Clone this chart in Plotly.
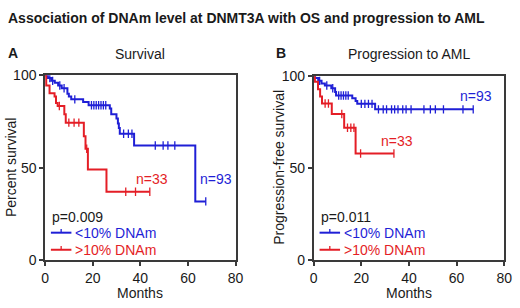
import numpy as np
import plotly.graph_objects as go

# ---------------- data ----------------
# Panel A: overall survival (step curves: time in months, percent survival)
a_low_t = [0, 1.2, 2.6, 4.1, 5.5, 7.0, 9.4, 10.0, 11.0, 16.0, 18.3, 27.2, 27.8, 30.0, 30.6, 31.0, 31.4, 37.4, 63.1, 67.5]
a_low_s = [100, 98.5, 97, 96, 94.5, 93, 90, 88.5, 87, 85.5, 83.8, 82, 79, 76.6, 74, 71.5, 68.4, 62, 31.8, 31.8]
a_low_c = [2.0, 3.2, 6.2, 8.0, 12.5, 19.5, 20.5, 21.5, 22.5, 23.5, 24.5, 25.5, 33.0, 35.0, 36.5, 46.3, 49.6, 51.6, 54.5, 67.5]

a_high_t = [0, 0.5, 1.9, 4.0, 4.6, 5.3, 8.1, 8.7, 16.3, 17.0, 18.0, 25.8, 44.0]
a_high_s = [100, 94.5, 90.3, 88.5, 85, 83.4, 79, 74.4, 67, 60.3, 49, 37, 37]
a_high_c = [6.0, 10.0, 12.2, 14.2, 17.5, 33.9, 38.0, 44.0]

# Panel B: progression-free survival
b_low_t = [0, 0.6, 1.9, 3.3, 4.7, 7.4, 9.0, 9.4, 16.2, 17.6, 18.3, 25.8, 67.0]
b_low_s = [100, 99, 97.5, 96, 95, 93.5, 91.5, 89.5, 88, 86.5, 85, 82, 82]
b_low_c = [2.5, 5.5, 8.0, 10.5, 11.5, 12.5, 13.5, 14.5, 20.0, 21.5, 23.0, 24.5,
           27.2, 29.2, 30.6, 32.7, 34.0, 35.4, 37.4, 38.8, 40.9, 46.3, 49.0, 51.1, 54.5, 62.7, 67.0]

b_high_t = [0, 0.5, 1.8, 2.7, 3.5, 7.6, 12.8, 17.6, 33.7]
b_high_s = [100, 97, 93, 89, 85.2, 79.5, 72, 58, 58]
b_high_c = [4.8, 6.2, 11.8, 14.2, 15.6, 16.9, 19.7, 33.7]

group_labels = ["<10% DNAm", ">10% DNAm"]
n_labels = ["n=93", "n=33"]
p_values = ["p=0.009", "p=0.011"]
panel_titles = ["Survival", "Progression to AML"]
y_titles = ["Percent survival", "Progression-free survival"]
x_ticks = [0, 20, 40, 60, 80]
y_ticks = [0, 50, 100]

BLUE = "#1f1fd6"
RED = "#e41e26"
AX = "#3a3a3a"
FONT = "Arial, Liberation Sans, sans-serif"
W, H = 520, 308


def step_at(ts, ss, x):
    idx = np.searchsorted(np.array(ts), np.array(x), side="right") - 1
    return list(np.array(ss)[idx])


fig = go.Figure()

series = [
    ("x", "y", a_low_t, a_low_s, a_low_c, BLUE),
    ("x", "y", a_high_t, a_high_s, a_high_c, RED),
    ("x2", "y2", b_low_t, b_low_s, b_low_c, BLUE),
    ("x2", "y2", b_high_t, b_high_s, b_high_c, RED),
]
for xa, ya, t, s, c, col in series:
    fig.add_trace(go.Scatter(x=t, y=s, xaxis=xa, yaxis=ya, mode="lines",
                             line=dict(color=col, width=2, shape="hv"),
                             showlegend=False, hoverinfo="skip"))
    fig.add_trace(go.Scatter(x=c, y=step_at(t, s, c), xaxis=xa, yaxis=ya, mode="markers",
                             marker=dict(symbol="line-ns", size=6,
                                         line=dict(color=col, width=1.3)),
                             showlegend=False, hoverinfo="skip"))

axis_common = dict(showline=True, mirror=True, linecolor=AX, linewidth=1.5,
                   ticks="outside", ticklen=4, tickwidth=1.5, tickcolor=AX,
                   showgrid=False, zeroline=False,
                   tickfont=dict(family=FONT, size=14, color="#1a1a1a"))

fig.update_layout(
    width=W, height=H, margin=dict(l=0, r=0, t=0, b=0),
    paper_bgcolor="white", plot_bgcolor="white",
    font=dict(family=FONT, color="#1a1a1a"),
    xaxis=dict(domain=[42 / W, 237 / W], range=[0, 80], tickvals=x_ticks, **axis_common),
    yaxis=dict(domain=[(H - 266) / H, (H - 71) / H], range=[0, 100], tickvals=y_ticks, **axis_common),
    xaxis2=dict(domain=[317 / W, 512 / W], range=[0, 80], tickvals=x_ticks, anchor="y2", **axis_common),
    yaxis2=dict(domain=[(H - 266) / H, (H - 72) / H], range=[0, 100], tickvals=y_ticks, anchor="x2", **axis_common),
)


def px(x):
    return x / W


def py(y):
    return 1 - y / H


ann = []


def text(x, y, s, size=14, color="#1a1a1a", xanchor="center", bold=False, angle=0):
    ann.append(dict(x=px(x), y=py(y), xref="paper", yref="paper", text=(f"<b>{s}</b>" if bold else s),
                    showarrow=False, xanchor=xanchor, yanchor="middle", textangle=angle,
                    font=dict(family=FONT, size=size, color=color)))


text(2, 11, "Association of DNAm level at DNMT3A with OS and progression to AML", size=14, xanchor="left", bold=True)
text(2, 47, "A", size=14, xanchor="left", bold=True)
text(276, 47, "B", size=14, xanchor="left", bold=True)
text(139.5, 48, panel_titles[0], size=14)
text(414.5, 48, panel_titles[1], size=14)
text(7, 168, y_titles[0], angle=-90)
text(282, 168, y_titles[1], angle=-90)
text(139.5, 301, "Months")
text(414.5, 301, "Months")

# n labels
text(152, 180, n_labels[1], color=RED)
text(217, 180, n_labels[0], color=BLUE)
text(402, 140, n_labels[1], color=RED)
text(483, 93, n_labels[0], color=BLUE)

shapes = []
for x0, p in [(48, p_values[0]), (323, p_values[1])]:
    text(x0 - 1, 220, p, xanchor="left")
    for yy, lab, col in [(237, group_labels[0], BLUE), (255, group_labels[1], RED)]:
        text(x0 + 23, yy, lab, color=col, xanchor="left")
        shapes.append(dict(type="line", xref="paper", yref="paper", x0=px(x0), x1=px(x0 + 21),
                           y0=py(yy), y1=py(yy), line=dict(color=col, width=2)))
        shapes.append(dict(type="line", xref="paper", yref="paper", x0=px(x0 + 10.5), x1=px(x0 + 10.5),
                           y0=py(yy), y1=py(yy - 4), line=dict(color=col, width=1.3)))

fig.update_layout(annotations=ann, shapes=shapes)
fig.write_html("out.html", config={"displayModeBar": False})

# remove the default page margin so the figure sits at the window's top-left corner
with open("out.html", "r", encoding="utf-8") as f:
    html = f.read()
html = html.replace("<body>", '<body style="margin:0;padding:0;overflow:hidden">', 1)
with open("out.html", "w", encoding="utf-8") as f:
    f.write(html)
